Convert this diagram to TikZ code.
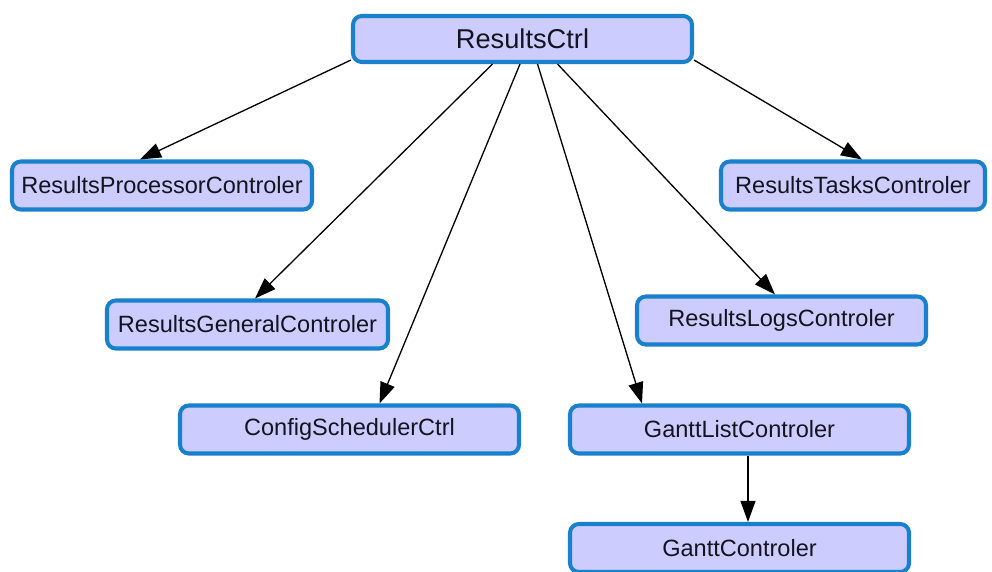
\documentclass[tikz,border=0pt]{standalone}
\usepackage{fontspec}
\setmainfont{Liberation Sans}
\usepackage{xcolor}
\usetikzlibrary{arrows.meta, positioning, calc}

\definecolor{boxfill}{RGB}{204,204,255}
\definecolor{boxline}{RGB}{24,128,204}
\definecolor{boxtext}{RGB}{20,20,30}

\begin{document}
\begin{tikzpicture}[
    ctrl/.style={draw=boxline, fill=boxfill, line width=2.3pt, rounded corners=5pt,
      minimum height=0.96cm, text=boxtext, font=\fontsize{13.4}{16}\selectfont},
    dep/.style={-{Triangle[length=12pt, width=8.5pt]}, line width=0.75pt}
  ]
  \useasboundingbox (0,0) rectangle (19.84,11.42);
  % root
  \node[ctrl, minimum width=6.78cm, minimum height=0.92cm, font=\fontsize{15.5}{18}\selectfont]
    (rc) at (10.45,10.64) {ResultsCtrl};
  % controllers
  \node[ctrl, minimum width=6.0cm] (proc) at (3.24,7.71) {ResultsProcessorControler};
  \node[ctrl, minimum width=5.28cm] (tasks) at (17.06,7.71) {ResultsTasksControler};
  \node[ctrl, minimum width=5.62cm] (general) at (4.95,4.93) {ResultsGeneralControler};
  \node[ctrl, minimum width=5.78cm] (logs) at (15.63,5.01) {ResultsLogsControler};
  \node[ctrl, minimum width=6.78cm] (config) at (6.99,2.83) {ConfigSchedulerCtrl};
  \node[ctrl, minimum width=6.78cm] (ganttlist) at (14.79,2.83) {GanttListControler};
  \node[ctrl, minimum width=6.78cm] (gantt) at (14.79,0.46) {GanttControler};
  % edges
  \draw[dep] ([yshift=0.08cm]rc.south west) -- ([xshift=-0.44cm]proc.north);
  \draw[dep] ([xshift=-0.6cm]rc.south) -- ([xshift=0.15cm]general.north);
  \draw[dep] ([xshift=-0.05cm]rc.south) -- ([xshift=0.6cm]config.north);
  \draw[dep] ([xshift=0.3cm]rc.south) -- ([xshift=-1.95cm]ganttlist.north);
  \draw[dep] ([xshift=0.7cm]rc.south) -- ([xshift=-0.13cm]logs.north);
  \draw[dep] ([yshift=0.08cm]rc.south east) -- ([xshift=0.18cm]tasks.north);
  \draw[dep] ([xshift=0.17cm]ganttlist.south) -- ([xshift=0.17cm]gantt.north);
\end{tikzpicture}
\end{document}
